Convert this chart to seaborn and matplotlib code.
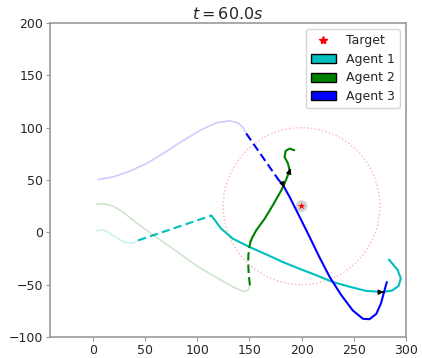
import numpy as np
import pandas as pd
import matplotlib
matplotlib.use("Agg")
import matplotlib.pyplot as plt
from matplotlib.patches import Patch, Circle
from matplotlib.lines import Line2D
import seaborn as sns

# ---- data ----
target = (200, 25)
target_radius = 75

# Agent 1 (cyan)
a1_past_x = [3.5, 8.3, 13, 19.4, 25.8, 32, 38.6, 43.4]
a1_past_y = [1.3, 2.6, 1.3, -2.9, -7, -10, -10.2, -7.7]
a1_dash_x = [43.4, 113.6]
a1_dash_y = [-7.7, 16]
a1_now_x = [113.6, 123, 134, 150, 166, 182, 198, 214, 230, 246, 262, 278,
            287, 293, 295, 292, 287, 283.6]
a1_now_y = [16, 3.5, -6, -14, -21, -28.4, -34.8, -41, -47.5, -52, -56, -57,
            -55.5, -51, -44, -36, -30, -26]

# Agent 2 (green)
a2_past_x = [3.5, 10, 19.4, 29, 38.6, 51.4, 67, 83, 99, 112, 118, 134, 144,
             148.6, 150.5]
a2_past_y = [26.8, 27.5, 25, 19.4, 11.5, 2, -9, -20, -31.6, -39.5, -43, -52,
             -56.5, -55.5, -50.7]
a2_dash_x = [150.5, 149.5, 148.8, 149, 150, 151]
a2_dash_y = [-50.7, -42, -30, -22, -14, -9]
a2_now_x = [151, 153, 156.6, 164.6, 172.5, 180.5, 185, 188.5, 187, 183.7,
            184.7, 188.5, 193]
a2_now_y = [-9, -4.5, 2, 13, 26, 40, 49.8, 59, 65.7, 72, 77.8, 80, 78.5]

# Agent 3 (blue)
a3_past_x = [5, 19.4, 35.4, 51.4, 67.3, 83, 102, 118, 131, 139, 144, 147]
a3_past_y = [50.4, 52.9, 58.4, 65.7, 75.3, 85.5, 97, 104.6, 106.5, 104.6,
             100, 94.4]
a3_dash_x = [147, 178]
a3_dash_y = [94.4, 50]
a3_now_x = [178, 182, 188.5, 196.5, 207.7, 217, 227, 238, 249, 258.7, 265,
            271.5, 276, 279, 281.6]
a3_now_y = [50, 45.6, 33.8, 18, -4.5, -23.6, -42.8, -60, -74.6, -82.6, -83,
            -78, -68, -57, -47.5]

# heading arrows (position, direction)
arrow_x = [188, 182, 275.6]
arrow_y = [57, 46, -57.2]
arrow_dx = [1.2, 1.4, 3]
arrow_dy = [4, -3, 0]

colors = ["c", "g", "b"]
labels = ["Agent 1", "Agent 2", "Agent 3"]

# ---- plot ----
sns.set_style("white")
fig = plt.figure(figsize=(4.22, 3.58), dpi=100)
ax = fig.add_axes([50 / 422, 1 - 337 / 358, 356 / 422, 314 / 358])

agents = [
    (a1_past_x, a1_past_y, a1_dash_x, a1_dash_y, a1_now_x, a1_now_y),
    (a2_past_x, a2_past_y, a2_dash_x, a2_dash_y, a2_now_x, a2_now_y),
    (a3_past_x, a3_past_y, a3_dash_x, a3_dash_y, a3_now_x, a3_now_y),
]

for (px, py, dx, dy, nx, ny), col in zip(agents, colors):
    sns.lineplot(x=px, y=py, sort=False, estimator=None, color=col,
                 alpha=0.2, lw=1.2, ax=ax)
    sns.lineplot(x=dx, y=dy, sort=False, estimator=None, color=col,
                 lw=1.5, ax=ax, linestyle=(0, (4, 2)))
    sns.lineplot(x=nx, y=ny, sort=False, estimator=None, color=col,
                 lw=1.5, ax=ax)

ax.add_patch(Circle(target, target_radius, fill=False, color="red",
                    alpha=0.3, lw=1, linestyle=":"))
sns.scatterplot(x=[target[0]], y=[target[1]], s=70, color="grey",
                alpha=0.35, edgecolor="none", ax=ax, zorder=4)
sns.scatterplot(x=[target[0]], y=[target[1]], s=30, marker="*",
                color="red", edgecolor="none", ax=ax, zorder=5)

for x, y, ddx, ddy in zip(arrow_x, arrow_y, arrow_dx, arrow_dy):
    ax.annotate("", xy=(x + ddx, y + ddy), xytext=(x, y),
                arrowprops=dict(arrowstyle="-|>", color="black",
                                lw=1.0, mutation_scale=7), zorder=6)

ax.set_xlim(-41, 300)
ax.set_ylim(-100, 200)
ax.set_xticks([0, 50, 100, 150, 200, 250, 300])
ax.set_yticks([-100, -50, 0, 50, 100, 150, 200])
ax.tick_params(labelsize=9, length=3, color="#999999", width=0.8,
               bottom=True, left=True, pad=2)
for s in ax.spines.values():
    s.set_color("#999999")
    s.set_linewidth(1.2)
ax.set_xlabel("")
ax.set_ylabel("")
ax.set_title("$t = 60.0s$", fontsize=11.5, pad=3)

handles = [Line2D([], [], marker="*", color="red", linestyle="none",
                  markersize=6, label="Target")]
for col, lab in zip(colors, labels):
    handles.append(Patch(facecolor=col, edgecolor="black", label=lab))
ax.legend(handles=handles, loc="upper right", fontsize=9, frameon=True,
          handlelength=2.0, borderpad=0.4, labelspacing=0.45)

fig.savefig("out.png", dpi=100)
